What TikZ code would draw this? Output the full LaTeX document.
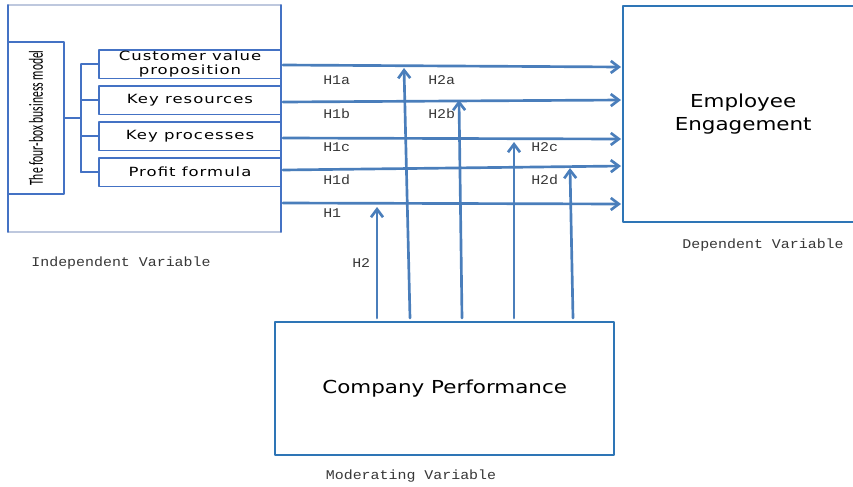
\documentclass[tikz,border=0pt]{standalone}
\usepackage{fontspec}
\setmainfont{Carlito}
\newfontfamily\boxfont[FakeStretch=1.3,LetterSpace=8]{DejaVu Sans}
\newfontfamily\bigfont[FakeStretch=1.2]{DejaVu Sans}
\newfontfamily\narrowfont[FakeStretch=0.58]{Carlito}
\newfontfamily\labelfont[FakeStretch=1.12]{Liberation Mono}
\usetikzlibrary{arrows.meta,positioning}

\definecolor{arrowblue}{RGB}{74,126,187}
\definecolor{boxblue}{RGB}{68,114,196}
\definecolor{mainblue}{RGB}{46,117,182}
\definecolor{rimgray}{RGB}{190,200,222}
\definecolor{labelgray}{RGB}{55,55,55}

\tikzset{
  pxbox/.style 2 args={draw=boxblue,line width=1.3pt,minimum width=#1*0.75pt,
    minimum height=#2*0.75pt,inner sep=0pt,outer sep=0pt,anchor=north west},
  rowbox/.style={pxbox={182}{28.5},font=\boxfont\fontsize{9.5}{10.5}\selectfont,align=center},
  mainbox/.style 2 args={draw=mainblue,line width=1.8pt,minimum width=#1*0.75pt,
    minimum height=#2*0.75pt,inner sep=0pt,anchor=north west,
    font=\bigfont\fontsize{13.4}{17.2}\selectfont,align=center},
  flow/.style={arrowblue,line width=2pt,-{Straight Barb[length=6pt,width=9pt]}},
  hyp/.style={font=\labelfont\fontsize{10}{12}\selectfont,text=labelgray,anchor=west,inner sep=0pt},
  varname/.style={font=\labelfont\fontsize{10}{12}\selectfont,text=labelgray,inner sep=0pt}
}

\begin{document}
\begin{tikzpicture}[x=0.75pt,y=-0.75pt,line cap=round,line join=round]
\useasboundingbox (0,0) rectangle (853,486);

% independent side
\node[draw=rimgray,line width=0.8pt,minimum width=273*0.75pt,minimum height=227*0.75pt,
  inner sep=0pt,outer sep=0pt,anchor=north west] (indep) at (8,5) {};
\draw[boxblue,line width=1.4pt] (indep.north west)--(indep.south west)
  (indep.north east)--(indep.south east);
\node[pxbox={56}{152}] (fourbox) at (8,42) {};
\node[rotate=90,font=\narrowfont\fontsize{15}{15}\selectfont] (fourtext) at (fourbox.center)
  {The four-box business model};

\node[rowbox] (cvp) at (99,50) {Customer value\\proposition};
\node[rowbox,below=7.5*0.75pt of cvp] (keyres) {Key resources};
\node[rowbox,below=7.5*0.75pt of keyres] (keyproc) {Key processes};
\node[rowbox,below=7.5*0.75pt of keyproc] (profit) {Profit formula};

\draw[boxblue,line width=1.3pt] (fourbox.east) -- ++(17,0) coordinate (fork);
\draw[boxblue,line width=1.3pt] (fork|-cvp.west) -- (fork|-profit.west);
\foreach \r in {cvp,keyres,keyproc,profit}
  \draw[boxblue,line width=1.3pt] (fork|-\r.west) -- (\r.west);

% dependent and moderating boxes
\node[mainbox={240}{216}] (employee) at (622,5) {Employee\\Engagement};
\node[mainbox={339}{133}] (company) at (274,321) {Company Performance};

% direct paths H1a..H1
\foreach \i/\sy/\ty in {1/65/67,2/102/100,3/138/139,4/170/166,5/203/204}{
  \coordinate (out\i) at (283,\sy);
  \coordinate (in\i) at (621,\ty);
  \draw[flow] (out\i) -- (in\i);
}

% moderating paths H2..H2d
\foreach \j/\bx/\tx/\ty in {1/377/377/207,2/410/404/68,3/462/459/100,4/514/514/142,5/573/570/168}{
  \coordinate (base\j) at (\bx,318);
  \coordinate (tip\j) at (\tx,\ty);
  \draw[flow] (base\j) -- (tip\j);
}

% hypothesis labels
\node[hyp] (hA) at (323,80) {H1a};
\node[hyp] (hB) at (323,114) {H1b};
\node[hyp] (hC) at (323,147) {H1c};
\node[hyp] (hD) at (323,180) {H1d};
\node[hyp] (hE) at (323,213) {H1};
\node[hyp] (mA) at (428,80) {H2a};
\node[hyp] (mB) at (428,114) {H2b};
\node[hyp] (mC) at (531,147) {H2c};
\node[hyp] (mD) at (531,180) {H2d};
\node[hyp] (mE) at (352,263) {H2};

% variable names
\node[varname] (indepname) at (121,263) {Independent Variable};
\node[varname] (depname) at (763,245) {Dependent Variable};
\node[varname] (modname) at (411,476) {Moderating Variable};
\end{tikzpicture}
\end{document}
